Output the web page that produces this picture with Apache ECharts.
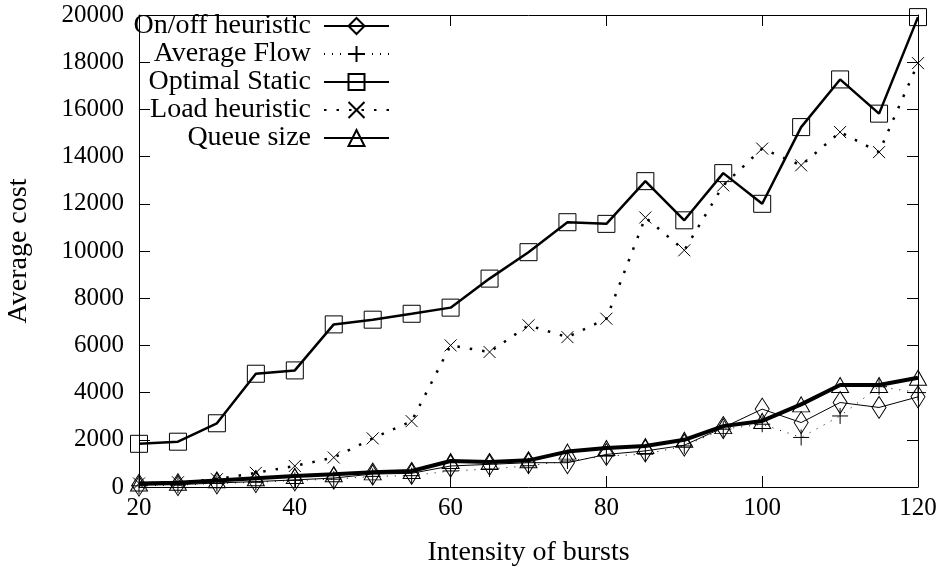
<!DOCTYPE html>
<html>
<head>
<meta charset="utf-8">
<script src="https://cdn.jsdelivr.net/npm/echarts@6/dist/echarts.min.js"></script>
<style>
html,body{margin:0;padding:0;background:#fff;}
#c{width:947px;height:567px;}
</style>
</head>
<body>
<div id="c"></div>
<script>
const intensity = [20,25,30,35,40,45,50,55,60,65,70,75,80,85,90,95,100,105,110,115,120];
const onOffHeuristic = [80,100,170,230,300,380,550,580,890,960,1030,1030,1380,1530,1770,2520,3300,2730,3580,3370,3820];
const averageFlow = [50,80,150,200,280,330,450,480,680,760,900,1100,1310,1390,1740,2450,2660,2100,3010,4250,4000];
const optimalStatic = [1830,1920,2700,4800,4940,6890,7090,7340,7600,8830,9950,11220,11150,12960,11300,13300,12000,15250,17270,15820,19910];
const loadHeuristic = [150,200,330,600,890,1250,2060,2790,6000,5720,6850,6350,7130,11420,10030,12780,14340,13630,15040,14190,17960];
const queueSize = [150,180,280,370,470,540,620,680,1100,1060,1130,1500,1650,1740,2000,2580,2800,3500,4320,4320,4630];
const xTicks = [20,40,60,80,100,120];
const yTicks = [0,2000,4000,6000,8000,10000,12000,14000,16000,18000,20000];

const FONT = 'Liberation Serif';
const pair = arr => intensity.map((x, i) => [x, arr[i]]);

function axisBase(extra) {
  return Object.assign({
    type: 'value',
    axisLine: {show: true, onZero: false, lineStyle: {color: '#000', width: 1}},
    axisTick: {show: true, inside: true, length: 11, lineStyle: {color: '#000', width: 1}},
    splitLine: {show: false},
    axisLabel: {show: false}
  }, extra);
}

const chart = echarts.init(document.getElementById('c'), null, {renderer: 'canvas'});
const markStyle = {color: 'transparent', borderColor: '#000', borderWidth: 1};

chart.setOption({
  animation: false,
  backgroundColor: '#fff',
  grid: {left: 139, right: 29, top: 15, bottom: 80, containLabel: false, outerBoundsMode: 'none'},
  xAxis: [
    axisBase({
      position: 'bottom', min: xTicks[0], max: xTicks[xTicks.length-1], interval: 20,
      name: 'Intensity of bursts', nameLocation: 'middle', nameGap: 52,
      nameTextStyle: {fontFamily: FONT, fontSize: 28, color: '#000'},
      axisLabel: {show: true, fontFamily: FONT, fontSize: 25, color: '#000', margin: 9,
                  formatter: v => String(v)}
    }),
    axisBase({position: 'top', min: xTicks[0], max: xTicks[xTicks.length-1], interval: 20})
  ],
  yAxis: [
    axisBase({
      position: 'left', min: yTicks[0], max: yTicks[yTicks.length-1], interval: 2000,
      name: 'Average cost', nameLocation: 'middle', nameGap: 106,
      nameTextStyle: {fontFamily: FONT, fontSize: 28, color: '#000'},
      axisLabel: {show: true, fontFamily: FONT, fontSize: 25, color: '#000', margin: 15,
                  formatter: v => String(v)}
    }),
    axisBase({position: 'right', min: yTicks[0], max: yTicks[yTicks.length-1], interval: 2000})
  ],
  legend: {
    show: true, orient: 'vertical', align: 'right', right: 557, top: 12, padding: 0,
    itemWidth: 65, itemHeight: 20, itemGap: 0, selectedMode: false,
    textStyle: {fontFamily: FONT, fontSize: 28, color: '#000', lineHeight: 27, padding: [0, 8, 0, 0]},
    data: ['On/off heuristic', 'Average Flow', 'Optimal Static', 'Load heuristic', 'Queue size']
  },
  series: [
    {
      name: 'On/off heuristic', type: 'line', data: pair(onOffHeuristic),
      symbol: 'diamond', symbolSize: [14, 22], showAllSymbol: true,
      lineStyle: {color: '#000', width: 1}, itemStyle: markStyle
    },
    {
      name: 'Average Flow', type: 'line', data: pair(averageFlow),
      symbol: 'path://M0,8L16,8M8,0L8,16', symbolSize: 16, showAllSymbol: true,
      lineStyle: {color: '#000', width: 1, type: [1, 7]}, itemStyle: markStyle
    },
    {
      name: 'Optimal Static', type: 'line', data: pair(optimalStatic),
      symbol: 'rect', symbolSize: 17, showAllSymbol: true,
      lineStyle: {color: '#000', width: 2.5}, itemStyle: markStyle
    },
    {
      name: 'Load heuristic', type: 'line', data: pair(loadHeuristic),
      symbol: 'path://M0,0L12,12M0,12L12,0', symbolSize: 12, showAllSymbol: true,
      lineStyle: {color: '#000', width: 2.5, type: [2.5, 10]}, itemStyle: markStyle
    },
    {
      name: 'Queue size', type: 'line', data: pair(queueSize),
      symbol: 'triangle', symbolSize: [17, 15], showAllSymbol: true,
      lineStyle: {color: '#000', width: 4}, itemStyle: markStyle
    }
  ]
});
</script>
</body>
</html>
